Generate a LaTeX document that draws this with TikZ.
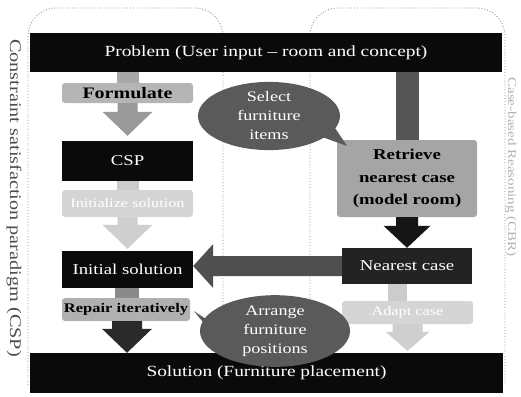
\documentclass[tikz,border=0pt]{standalone}
\usepackage{fontspec}
\setmainfont{Liberation Serif}[FakeStretch=1.25]
\usetikzlibrary{calc,shapes.geometric}
\definecolor{boxblack}{HTML}{0A0A0A}
\definecolor{formgray}{HTML}{B5B5B5}
\definecolor{lightbox}{HTML}{D5D5D5}
\definecolor{repgray}{HTML}{B0B0B0}
\definecolor{retrgray}{HTML}{A5A5A5}
\definecolor{callgray}{HTML}{5A5A5A}
\definecolor{arrA}{HTML}{9A9A9A}
\definecolor{arrB}{HTML}{CFCFCF}
\definecolor{arrC}{HTML}{2A2A2A}
\definecolor{arrE}{HTML}{151515}
\definecolor{arrH}{HTML}{4F4F4F}
\definecolor{stemA}{HTML}{A8A8A8}
\definecolor{stemB}{HTML}{CCCCCC}
\definecolor{stemC}{HTML}{8A8A8A}
\definecolor{stemD}{HTML}{555555}
\definecolor{regline}{HTML}{8C8C8C}
\newcommand{\blkdown}[6]{\fill[#1] let \p1=(#2), \p2=(#3) in (\x1-#4pt,\y1) -- (\x1+#4pt,\y1) -- (\x1+#4pt,\y2+#6pt) -- (\x1+#5pt,\y2+#6pt) -- (\x1,\y2) -- (\x1-#5pt,\y2+#6pt) -- (\x1-#4pt,\y2+#6pt) -- cycle;}
\begin{document}
\begin{tikzpicture}[x=1pt,y=-1pt,
  region/.style={draw=regline, dotted, line width=0.9pt, rounded corners=28pt},
  blackbox/.style={fill=boxblack, text=white, inner sep=0pt, font=\fontsize{15}{17}\selectfont},
  graybox/.style={rounded corners=3pt, inner sep=0pt, font=\fontsize{16}{16}\selectfont\bfseries},
  lightbox/.style={fill=lightbox, rounded corners=3pt, inner sep=0pt, text=white, font=\fontsize{13}{15}\selectfont},
  callout/.style={ellipse, fill=callgray, text=white, inner sep=0pt, align=center, font=\fontsize{14.5}{19}\selectfont}
]
\useasboundingbox (0,0) rectangle (521,396);
\fill[white] (0,0) rectangle (521,396);
% regions
\draw[region] (28,385) -- (28,8) -- (223,8) -- (223,385);
\draw[region] (310,385) -- (310,8) -- (505,8) -- (505,385);
\node[rotate=-90, text=black!70, font=\fontsize{16.2}{16}\selectfont] (lcsp) at (14,198) {Constraint satisfaction paradigm (CSP)};
\node[rotate=-90, text=black!30, font=\fontsize{12}{12}\selectfont] (lcbr) at (511,167) {Case-based Reasoning (CBR)};
% boxes
\node[blackbox, font=\fontsize{15.5}{17}\selectfont, minimum width=472, minimum height=39] (prob) at (266,52.5) {Problem (User input -- room and concept)};
\node[graybox, fill=formgray, minimum width=131, minimum height=20] (form) at (127.5,93) {Formulate};
\node[blackbox, minimum width=131, minimum height=40] (csp) at (127.5,161) {CSP};
\node[lightbox, minimum width=131, minimum height=27] (init) at (127.5,203.5) {Initialize solution};
\node[blackbox, minimum width=131, minimum height=37] (initsol) at (127.5,269.5) {Initial solution};
\node[graybox, fill=repgray, font=\fontsize{13.2}{16}\selectfont\bfseries, minimum width=128, minimum height=23] (repair) at (126,309.5) {Repair iteratively};
\node[blackbox, font=\fontsize{15.5}{17}\selectfont, minimum width=473, minimum height=40] (sol) at (266.5,373) {Solution (Furniture placement)};
\node[graybox, fill=retrgray, minimum width=140, minimum height=77, align=center, font=\fontsize{15}{22.5}\selectfont\bfseries] (retr) at (407,178.5) {Retrieve\\nearest case\\(model room)};
\node[blackbox, fill=boxblack!90, minimum width=130, minimum height=36] (near) at (407,266) {Nearest case};
\node[lightbox, minimum width=131, minimum height=23] (adapt) at (407.5,312.5) {Adapt case};
% stems
\fill[stemA] ($(form.north)+(-11,0)$) rectangle ($(form.north |- prob.south)+(11,0)$);
\fill[stemB] ($(init.north)+(-11,0)$) rectangle ($(init.north |- csp.south)+(11,0)$);
\fill[stemC] ($(repair.north)+(-11,0)$) rectangle ($(repair.north |- initsol.south)+(13,0)$);
\fill[stemD] ($(retr.north)+(-11,0)$) rectangle ($(retr.north |- prob.south)+(12,0)$);
\fill[stemB] ($(adapt.north)+(-19.5,0)$) rectangle ($(adapt.north |- near.south)+(-0.5,0)$);
% block arrows
\blkdown{arrA}{form.south}{$(csp.north)+(0,-5)$}{10}{25}{24}
\blkdown{arrB}{init.south}{$(initsol.north)+(0,-2)$}{10}{25}{24}
\blkdown{arrC}{$(repair.south)+(1,0)$}{sol.north}{15}{25}{24}
\blkdown{arrE}{$(retr.south)+(0,0)$}{near.north}{11}{23.5}{22}
\blkdown{arrB}{adapt.south}{$(sol.north)+(0,-2)$}{15}{22}{19}
\fill[arrH] let \p1=(near.west), \p2=(initsol.east) in
  (\x1,\y1+10pt) -- (\x2+20pt,\y1+10pt) -- (\x2+20pt,\y1+22pt) -- (\x2,\y1) -- (\x2+20pt,\y1-22pt) -- (\x2+20pt,\y1-10pt) -- (\x1,\y1-10pt) -- cycle;
% callouts
\coordinate (selTip) at (347,146);
\coordinate (arrTip) at (194,311);
\node[callout, minimum width=142, minimum height=64] (sel) at (269,116) {Select\\furniture\\items};
\fill[callgray] ($(sel.center)+(45,18)$) -- (selTip) -- ($(sel.center)+(62,6)$) -- cycle;
\node[callout, minimum width=150, minimum height=64] (arr) at (275,331) {Arrange\\furniture\\positions};
\fill[callgray] ($(arr.center)+(-66,-10)$) -- (arrTip) -- ($(arr.center)+(-60,6)$) -- cycle;
\end{tikzpicture}
\end{document}
